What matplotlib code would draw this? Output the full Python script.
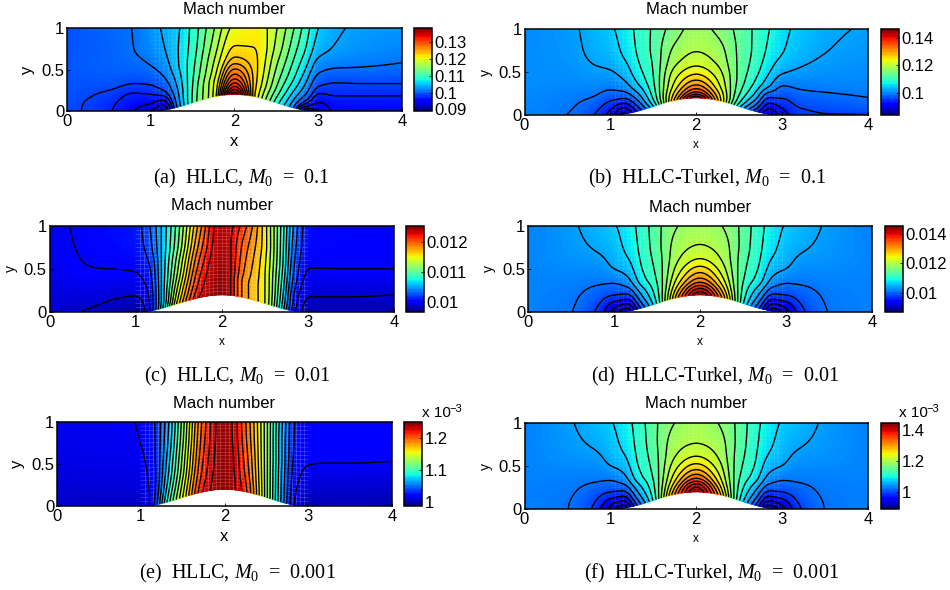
import matplotlib
matplotlib.use("Agg")
import matplotlib.pyplot as plt
from matplotlib.cm import ScalarMappable
from matplotlib.colors import Normalize
import numpy as np

plt.rcParams['font.family'] = ['Liberation Sans', 'DejaVu Sans']
plt.rcParams['mathtext.fontset'] = 'custom'
plt.rcParams['mathtext.rm'] = 'Liberation Serif'
plt.rcParams['mathtext.it'] = 'Liberation Serif:italic'

W, H = 950, 590

# sample stations along the channel and across it (fraction of the height, top to wall)
x_stations = [0, 0.5, 0.8, 1.0, 1.15, 1.3, 1.5, 1.75, 2, 2.25, 2.5, 2.7, 2.85, 3, 3.2, 3.5, 4]
eta_stations = [1, 0.75, 0.55, 0.35, 0.2, 0.08, 0]

# Mach number, in units of 1e-3, one row per x station
mach_a = [
    [99.2, 99.3, 99.4, 99.3, 99.2, 99.1, 99.1],
    [100.1, 100.0, 99.9, 99.3, 98.1, 97.4, 97.2],
    [100.9, 100.8, 100.2, 98.7, 96.8, 95.6, 95.0],
    [102.3, 101.8, 100.8, 98.9, 97.0, 94.8, 93.0],
    [103.5, 103.0, 102.0, 100.0, 97.6, 93.5, 90.5],
    [104.8, 105.0, 104.8, 103.5, 102.2, 101.0, 100.0],
    [108.7, 109.0, 109.5, 110.0, 110.4, 110.6, 110.7],
    [114.7, 115.8, 117.0, 118.3, 119.5, 119.8, 120.0],
    [120.4, 122.0, 124.0, 127.8, 131.2, 135.0, 138.0],
    [121.3, 122.0, 122.5, 122.8, 122.6, 122.0, 121.5],
    [117.6, 116.8, 115.5, 114.0, 112.5, 110.5, 109.0],
    [112.9, 111.5, 110.0, 108.0, 105.5, 103.0, 101.2],
    [109.2, 107.9, 106.0, 103.5, 101.0, 97.0, 91.5],
    [105.5, 104.2, 102.0, 99.3, 96.8, 94.5, 93.0],
    [103.6, 103.0, 101.2, 98.6, 97.2, 95.8, 95.3],
    [102.9, 102.3, 101.0, 98.7, 97.2, 95.9, 95.4],
    [102.5, 101.6, 100.6, 98.7, 97.2, 95.8, 95.2],
]
mach_b = [
    [100.2, 100.3, 100.4, 100.4, 100.2, 100.0, 99.9],
    [101.2, 101.0, 100.7, 100.2, 99.5, 99.1, 98.8],
    [102.8, 102.4, 101.6, 100.2, 98.7, 97.0, 96.0],
    [104.3, 103.3, 102.0, 99.8, 96.8, 93.5, 91.5],
    [106.0, 105.3, 103.5, 100.8, 96.5, 90.0, 86.0],
    [108.2, 107.8, 106.8, 104.5, 100.5, 96.0, 92.5],
    [111.2, 111.4, 111.0, 110.5, 109.5, 107.5, 104.5],
    [115.2, 117.0, 118.7, 121.5, 123.8, 127.0, 129.5],
    [117.8, 119.0, 121.0, 125.4, 131.0, 138.0, 146.0],
    [115.9, 117.6, 119.0, 121.5, 123.8, 127.0, 129.0],
    [112.7, 113.0, 113.0, 112.7, 111.5, 109.0, 105.5],
    [110.0, 109.8, 109.0, 107.0, 103.5, 98.5, 94.0],
    [107.8, 107.0, 105.5, 102.5, 96.0, 90.5, 87.0],
    [105.7, 105.0, 103.0, 99.0, 96.0, 93.0, 91.0],
    [104.0, 103.3, 101.8, 99.5, 97.5, 95.8, 94.8],
    [102.4, 101.9, 101.0, 99.8, 98.0, 96.5, 95.7],
    [101.5, 101.0, 100.5, 100.0, 98.8, 97.3, 95.7],
]
mach_c = [
    [9.97, 9.96, 9.95, 9.93, 9.91, 9.89, 9.885],
    [10.04, 10.03, 10.01, 9.96, 9.91, 9.875, 9.86],
    [10.06, 10.05, 10.02, 9.95, 9.89, 9.83, 9.80],
    [10.09, 10.07, 10.03, 9.96, 9.88, 9.78, 9.75],
    [10.25, 10.20, 10.12, 10.05, 10.00, 9.97, 9.95],
    [10.55, 10.55, 10.55, 10.55, 10.55, 10.55, 10.60],
    [11.05, 11.10, 11.20, 11.30, 11.42, 11.52, 11.60],
    [11.85, 11.95, 12.05, 12.15, 12.22, 12.28, 12.33],
    [12.42, 12.42, 12.45, 12.48, 12.50, 12.50, 12.50],
    [12.10, 12.00, 11.95, 11.90, 11.85, 11.85, 11.85],
    [11.55, 11.55, 11.52, 11.50, 11.50, 11.50, 11.50],
    [10.90, 10.88, 10.86, 10.80, 10.75, 10.70, 10.65],
    [10.35, 10.30, 10.25, 10.18, 10.10, 10.05, 10.00],
    [10.07, 10.05, 10.015, 9.95, 9.88, 9.83, 9.80],
    [10.04, 10.03, 10.015, 9.94, 9.88, 9.83, 9.80],
    [10.03, 10.025, 10.015, 9.94, 9.88, 9.83, 9.80],
    [10.03, 10.025, 10.015, 9.94, 9.87, 9.83, 9.80],
]
mach_d = [
    [10.17, 10.19, 10.19, 10.18, 10.18, 10.18, 10.18],
    [10.33, 10.30, 10.25, 10.17, 10.13, 10.11, 10.10],
    [10.50, 10.40, 10.27, 10.13, 9.98, 9.85, 9.77],
    [10.62, 10.52, 10.42, 10.12, 9.82, 9.38, 9.10],
    [10.80, 10.72, 10.55, 10.25, 9.80, 9.20, 8.78],
    [11.00, 10.97, 10.91, 10.75, 10.40, 10.05, 9.75],
    [11.40, 11.38, 11.32, 11.25, 11.15, 11.05, 10.95],
    [11.77, 11.90, 12.02, 12.27, 12.57, 12.95, 13.20],
    [11.90, 12.03, 12.28, 12.80, 13.35, 14.10, 14.55],
    [11.77, 11.90, 12.02, 12.27, 12.57, 12.95, 13.20],
    [11.40, 11.38, 11.32, 11.25, 11.15, 11.05, 10.95],
    [11.00, 10.97, 10.91, 10.75, 10.40, 10.05, 9.75],
    [10.80, 10.72, 10.55, 10.25, 9.80, 9.20, 8.78],
    [10.62, 10.52, 10.42, 10.12, 9.82, 9.38, 9.10],
    [10.50, 10.40, 10.27, 10.13, 9.98, 9.85, 9.77],
    [10.33, 10.30, 10.25, 10.17, 10.13, 10.11, 10.10],
    [10.17, 10.19, 10.19, 10.18, 10.18, 10.18, 10.18],
]
mach_e = [
    [1.0125, 1.012, 1.011, 1.009, 1.007, 1.006, 1.005],
    [1.014, 1.013, 1.012, 1.010, 1.007, 1.005, 1.004],
    [1.015, 1.014, 1.012, 1.010, 1.007, 1.005, 1.004],
    [1.017, 1.016, 1.014, 1.012, 1.009, 1.006, 1.005],
    [1.026, 1.025, 1.024, 1.022, 1.022, 1.023, 1.025],
    [1.055, 1.058, 1.062, 1.067, 1.073, 1.080, 1.085],
    [1.119, 1.123, 1.128, 1.133, 1.140, 1.146, 1.150],
    [1.205, 1.208, 1.211, 1.215, 1.219, 1.223, 1.225],
    [1.245, 1.245, 1.246, 1.246, 1.247, 1.247, 1.247],
    [1.200, 1.202, 1.205, 1.208, 1.211, 1.214, 1.215],
    [1.130, 1.130, 1.130, 1.130, 1.130, 1.130, 1.130],
    [1.062, 1.060, 1.060, 1.058, 1.057, 1.056, 1.055],
    [1.026, 1.025, 1.023, 1.020, 1.017, 1.014, 1.012],
    [1.018, 1.018, 1.017, 1.012, 1.007, 1.002, 1.000],
    [1.017, 1.017, 1.0165, 1.011, 1.006, 1.002, 1.000],
    [1.017, 1.017, 1.0165, 1.011, 1.006, 1.002, 1.000],
    [1.0165, 1.0165, 1.0162, 1.010, 1.005, 1.001, 0.999],
]
mach_f = [
    [1.029, 1.031, 1.031, 1.030, 1.029, 1.029, 1.029],
    [1.045, 1.042, 1.037, 1.029, 1.025, 1.023, 1.0225],
    [1.061, 1.051, 1.039, 1.026, 1.011, 0.999, 0.992],
    [1.072, 1.063, 1.053, 1.025, 0.996, 0.955, 0.928],
    [1.089, 1.081, 1.065, 1.037, 0.994, 0.937, 0.897],
    [1.108, 1.105, 1.100, 1.085, 1.051, 1.018, 0.990],
    [1.146, 1.144, 1.139, 1.132, 1.123, 1.113, 1.104],
    [1.181, 1.193, 1.205, 1.229, 1.256, 1.292, 1.315],
    [1.195, 1.204, 1.228, 1.278, 1.339, 1.415, 1.445],
    [1.181, 1.193, 1.205, 1.229, 1.256, 1.292, 1.315],
    [1.146, 1.144, 1.139, 1.132, 1.123, 1.113, 1.104],
    [1.108, 1.105, 1.100, 1.085, 1.051, 1.018, 0.990],
    [1.089, 1.081, 1.065, 1.037, 0.994, 0.937, 0.897],
    [1.072, 1.063, 1.053, 1.025, 0.996, 0.955, 0.928],
    [1.061, 1.051, 1.039, 1.026, 1.011, 0.999, 0.992],
    [1.045, 1.042, 1.037, 1.029, 1.025, 1.023, 1.0225],
    [1.029, 1.031, 1.031, 1.030, 1.029, 1.029, 1.029],
]

# colour range of each colorbar, same units
range_a = (89.0, 138.5)
range_b = (84.0, 146.3)
range_c = (9.67, 12.53)
range_d = (8.7, 14.55)
range_e = (0.9875, 1.25)
range_f = (0.89, 1.445)

# contour levels where a plain even spacing does not fit the picture
levels_a = [91, 93, 95, 97, 98.5, 100.8, 103.2, 105.5, 107.9, 110.3, 112.6, 115, 117.4, 119.7,
            122.1, 123.8, 125.4, 127, 128.6, 130.2, 131.8, 133.4, 135, 136.6]
levels_c = [9.87 + 0.135 * k for k in range(19)]
levels_e = [1.016 + 0.0122 * k for k in range(19)]

cbar_ticks_a = [90, 100, 110, 120, 130]
cbar_labels_a = ['0.09', '0.1', '0.11', '0.12', '0.13']
cbar_ticks_b = [100, 120, 140]
cbar_labels_b = ['0.1', '0.12', '0.14']
cbar_ticks_c = [10, 11, 12]
cbar_labels_c = ['0.01', '0.011', '0.012']
cbar_ticks_d = [10, 12, 14]
cbar_labels_d = ['0.01', '0.012', '0.014']
cbar_ticks_e = [1, 1.1, 1.2]
cbar_labels_e = ['1', '1.1', '1.2']
cbar_ticks_f = [1, 1.2, 1.4]
cbar_labels_f = ['1', '1.2', '1.4']


def wall(x):
    # the bump on the lower wall of the channel
    return np.where((x > 1) & (x < 3), 0.2 * np.sin(np.pi * (x - 1) / 2) ** 2, 0.0)


def hermite(xs, ys, xq):
    # monotone cubic blend between the stations, along the first axis of ys
    s = np.diff(ys, axis=0) / np.diff(xs)[:, None]
    m = np.zeros_like(ys)
    m[0], m[-1] = s[0], s[-1]
    same = s[:-1] * s[1:] > 0
    m[1:-1][same] = (2 * s[:-1] * s[1:])[same] / (s[:-1] + s[1:])[same]
    i = np.clip(np.searchsorted(xs, xq) - 1, 0, len(xs) - 2)
    d = (xs[i + 1] - xs[i])[:, None]
    t = (xq - xs[i])[:, None] / d
    return ((2 * t**3 - 3 * t**2 + 1) * ys[i] + (t**3 - 2 * t**2 + t) * d * m[i]
            + (3 * t**2 - 2 * t**3) * ys[i + 1] + (t**3 - t**2) * d * m[i + 1])


def soften(z, n, axis):
    # running mean, only to take the hand-read kinks out of the contour lines
    kernel = np.ones(n) / n
    pad = n // 2
    widths = [(0, 0), (0, 0)]
    widths[axis] = (pad, pad)
    padded = np.pad(z, widths, mode='edge')
    return np.apply_along_axis(lambda v: np.convolve(v, kernel, mode='valid'), axis, padded)


def place(left, top, right, bottom):
    return fig.add_axes([left / W, 1 - bottom / H, (right - left) / W, (bottom - top) / H])


def draw_panel(box, cbox, mach, vrange, levels, ticks, labels, title_xy, caption, caption_xy,
               big_labels, mesh_alpha, scale_xy=None):
    ax = place(*box)
    xq = np.linspace(0, 4, 401)
    eq = np.linspace(0, 1, 121)
    table = np.array(mach, dtype=float)[:, ::-1]
    along = hermite(np.array(x_stations, dtype=float), table, xq)
    z = hermite(np.array(eta_stations[::-1], dtype=float), along.T, eq)
    z = soften(soften(z, 9, 1), 5, 0)
    xx, ee = np.meshgrid(xq, eq)
    h = wall(xx)
    yy = h + ee * (1 - h)

    ax.pcolormesh(xx, yy, z, shading='gouraud', cmap='jet', vmin=vrange[0], vmax=vrange[1])

    # the faint white mesh of the refined block
    xs = np.linspace(1, 3, 200)
    for e in np.arange(0.05, 1.0, 0.05):
        ax.plot(xs, wall(xs) + e * (1 - wall(xs)), color='white', lw=0.4, alpha=mesh_alpha)
    for xv in np.arange(1.05, 2.96, 0.05):
        ax.plot([xv, xv], [wall(np.array(xv)), 1], color='white', lw=0.4, alpha=mesh_alpha)

    if levels is None:
        levels = np.linspace(vrange[0], vrange[1], 22)[1:-1]
    ax.contour(xx, yy, z, levels=levels, colors='k', linewidths=1.0)

    ax.set_xlim(0, 4)
    ax.set_ylim(0, 1)
    ax.set_xticks([0, 1, 2, 3, 4])
    ax.set_yticks([0, 0.5, 1])
    ax.set_yticklabels(['0', '0.5', '1'])
    ax.tick_params(direction='in', length=2, width=0.6, labelsize=12, pad=2)
    for s in ax.spines.values():
        s.set_linewidth(1.1)

    bw = box[2] - box[0]
    bh = box[3] - box[1]
    ax.set_xlabel('x', fontsize=12 if big_labels else 8.5)
    ax.xaxis.set_label_coords(0.5, -(23 if big_labels else 24) / bh, transform=ax.transAxes)
    ax.set_ylabel('y', fontsize=12 if big_labels else 10)
    ax.yaxis.set_label_coords(-32 / bw, 0.5, transform=ax.transAxes)

    cax = place(*cbox)
    fig.colorbar(ScalarMappable(Normalize(*vrange), plt.get_cmap('jet', 64)), cax=cax)
    cax.set_yticks(ticks)
    cax.set_yticklabels(labels)
    cax.minorticks_off()
    cax.tick_params(direction='in', length=2, width=0.6, labelsize=12, pad=2)
    for s in cax.spines.values():
        s.set_linewidth(1.1)

    fig.text(title_xy[0] / W, 1 - title_xy[1] / H, 'Mach number', ha='center', va='center', fontsize=12)
    fig.text(caption_xy[0] / W, 1 - caption_xy[1] / H, caption, ha='center', va='center',
             fontsize=14.5, family='Liberation Serif')
    if scale_xy:
        fig.text(scale_xy[0] / W, 1 - scale_xy[1] / H, 'x 10', ha='left', va='center', fontsize=11)
        fig.text((scale_xy[0] + 27) / W, 1 - (scale_xy[1] - 4) / H, '\u22123', ha='left', va='center', fontsize=8)


fig = plt.figure(figsize=(W / 100, H / 100), dpi=100)

draw_panel((67, 28, 402, 111), (414, 28, 432, 111), mach_a, range_a, levels_a, cbar_ticks_a, cbar_labels_a,
           (234, 9), '(a)  HLLC, $M_0$  =  0.1', (241, 178), True, 0.15)
draw_panel((524.5, 29, 868, 115), (881, 29, 899, 115), mach_b, range_b, None, cbar_ticks_b, cbar_labels_b,
           (697, 9), '(b)  HLLC-Turkel, $M_0$  =  0.1', (707, 178), False, 0.15)
draw_panel((49.5, 226, 394, 312), (406, 226, 424, 312), mach_c, range_c, levels_c, cbar_ticks_c, cbar_labels_c,
           (222, 206), '(c)  HLLC, $M_0$  =  0.01', (237, 376), False, 0.3)
draw_panel((528, 226, 872, 312), (885, 226, 903, 312), mach_d, range_d, None, cbar_ticks_d, cbar_labels_d,
           (700, 207), '(d)  HLLC-Turkel, $M_0$  =  0.01', (715, 376), False, 0.15)
draw_panel((57, 422, 392, 506), (404, 422, 422, 506), mach_e, range_e, levels_e, cbar_ticks_e, cbar_labels_e,
           (224, 403), '(e)  HLLC, $M_0$  =  0.001', (237, 573), True, 0.3, scale_xy=(422, 413))
draw_panel((524.5, 423, 868, 509), (881, 423, 899, 509), mach_f, range_f, None, cbar_ticks_f, cbar_labels_f,
           (696, 403), '(f)  HLLC-Turkel, $M_0$  =  0.001', (712, 573), False, 0.15, scale_xy=(899, 413))

fig.savefig('out.png', dpi=100)
